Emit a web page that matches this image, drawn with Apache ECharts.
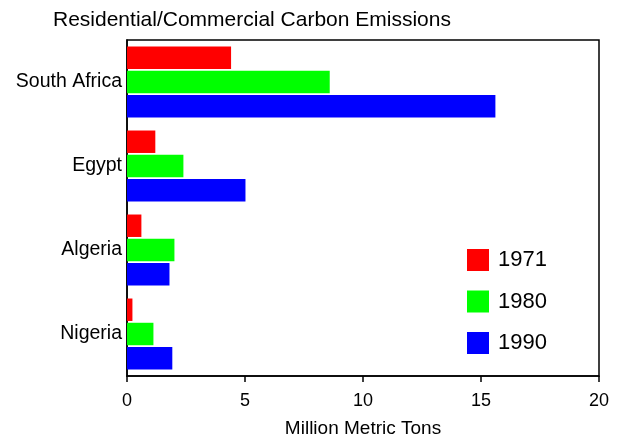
<!DOCTYPE html>
<html>
<head>
<meta charset="utf-8">
<script src="https://cdn.jsdelivr.net/npm/echarts@6/dist/echarts.min.js"></script>
<style>html,body{margin:0;padding:0;background:#fff;}#c{width:619px;height:440px;}</style>
</head>
<body>
<div id="c"></div>
<script>
const categories = ['South Africa', 'Egypt', 'Algeria', 'Nigeria'];
const seriesNames = ['1971', '1980', '1990'];
const values1971 = [4.41, 1.2, 0.61, 0.23];
const values1980 = [8.59, 2.39, 2.01, 1.12];
const values1990 = [15.61, 5.02, 1.8, 1.92];
const xTicks = [0, 5, 10, 15, 20];
const colors = ['#ff0000', '#00ff00', '#0000ff'];

const font = 'Liberation Sans, Arial, sans-serif';
const chart = echarts.init(document.getElementById('c'), null, {renderer: 'canvas'});
const data = [values1971, values1980, values1990];
chart.setOption({
  animation: false,
  backgroundColor: '#fff',
  title: {
    text: 'Residential/Commercial Carbon Emissions',
    left: 48, top: 5,
    textStyle: {fontFamily: font, fontSize: 21, fontWeight: 'normal', color: '#000'}
  },
  legend: {
    orient: 'vertical',
    left: 462, top: 244,
    itemWidth: 22, itemHeight: 22, itemGap: 19.5,
    icon: 'rect',
    data: seriesNames,
    textStyle: {fontFamily: font, fontSize: 22, color: '#000', padding: [0,0,0,4]}
  },
  grid: {left: 127, right: 20, top: 40, bottom: 64, show: true, borderColor: '#000', borderWidth: 1.5,
         containLabel: false, outerBoundsMode: 'none'},
  xAxis: {
    type: 'value', min: xTicks[0], max: xTicks[xTicks.length-1], interval: 5,
    name: 'Million Metric Tons', nameLocation: 'middle', nameGap: 43,
    nameTextStyle: {fontFamily: font, fontSize: 19, color: '#000'},
    axisLine: {show: true, lineStyle: {color: '#000', width: 1.5}},
    axisTick: {show: true, length: 6, lineStyle: {color: '#000', width: 1.5}},
    axisLabel: {fontFamily: font, fontSize: 18, color: '#000', margin: 16},
    splitLine: {show: false}
  },
  yAxis: {
    type: 'category', data: categories, inverse: true,
    axisLine: {show: true, lineStyle: {color: '#000', width: 1.5}},
    axisTick: {show: false},
    axisLabel: {fontFamily: font, fontSize: 19.5, color: '#000', margin: 5}
  },
  series: seriesNames.map((n, i) => ({
    name: n, type: 'bar', data: data[i],
    itemStyle: {color: colors[i]},
    barCategoryGap: '15.5%', barGap: '8%'
  }))
});
</script>
</body>
</html>
